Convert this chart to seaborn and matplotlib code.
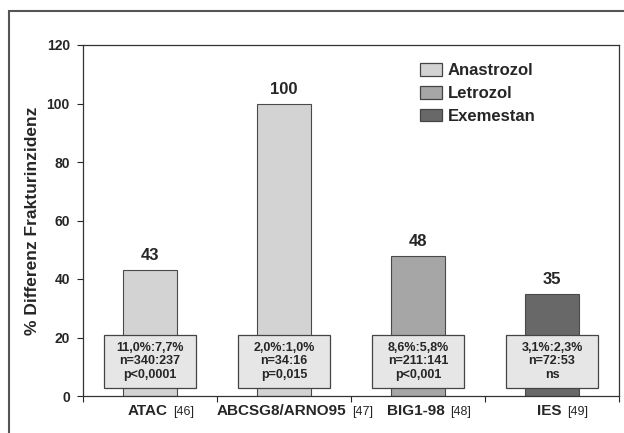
import numpy as np
import pandas as pd
import matplotlib
matplotlib.use('Agg')
import matplotlib.pyplot as plt
from matplotlib.patches import Rectangle, Patch
from matplotlib.offsetbox import TextArea, HPacker, AnnotationBbox
import seaborn as sns

sns.set_style('white')
plt.rcParams['font.family'] = ['Liberation Sans', 'DejaVu Sans']

studies = ['ATAC', 'ABCSG8/ARNO95', 'BIG1-98', 'IES']
refs = ['[46]', '[47]', '[48]', '[49]']
drugs = ['Anastrozol', 'Anastrozol', 'Letrozol', 'Exemestan']
values = [43, 100, 48, 35]
box_texts = ['11,0%:7,7%\nn=340:237\np<0,0001',
             '2,0%:1,0%\nn=34:16\np=0,015',
             '8,6%:5,8%\nn=211:141\np<0,001',
             '3,1%:2,3%\nn=72:53\nns']
drug_order = ['Anastrozol', 'Letrozol', 'Exemestan']
drug_colors = {'Anastrozol': '#d3d3d3', 'Letrozol': '#a6a6a6', 'Exemestan': '#686868'}

df = pd.DataFrame({'study': studies, 'drug': drugs, 'value': values})

fig = plt.figure(figsize=(6.24, 4.33), dpi=100)
ax = fig.add_axes([83 / 624, 1 - 396 / 433, 536 / 624, 351 / 433])

# outer frame of the figure (cut off at right / bottom)
fig.patches.append(Rectangle((9 / 624, -0.1), 1.2, 1 - 11 / 433 + 0.1,
                             transform=fig.transFigure, fill=False,
                             edgecolor='#555555', linewidth=1.5, clip_on=False))

sns.barplot(data=df, x='study', y='value', hue='drug', hue_order=drug_order,
            palette=drug_colors, dodge=False, width=0.4, edgecolor='#4a4a4a',
            linewidth=0.8, legend=False, ax=ax, zorder=2)

ax.set_ylim(0, 120)
ax.set_xlim(-0.5, len(studies) - 0.5)
ax.set_yticks(np.arange(0, 121, 20))
ax.set_yticklabels([str(t) for t in range(0, 121, 20)], fontsize=10, fontweight='bold')
ax.set_xticks(np.arange(-0.5, len(studies), 1.0))
ax.set_xticklabels([])
ax.tick_params(axis='y', direction='out', length=4.5, width=0.8, left=True, pad=5)
ax.tick_params(axis='x', direction='out', length=4, width=0.8, bottom=True)
ax.set_xlabel('')
ax.set_ylabel('% Differenz Frakturinzidenz', fontsize=12.5, fontweight='bold', labelpad=5)
for s in ax.spines.values():
    s.set_color('#333333')
    s.set_linewidth(0.9)

# value labels
for i, v in enumerate(values):
    ax.annotate(str(v), (i, v), xytext=(0, 5), textcoords='offset points',
                ha='center', va='bottom', fontsize=12, fontweight='bold')

# annotation boxes
for i, t in enumerate(box_texts):
    ax.add_patch(Rectangle((i - 0.34, 2.7), 0.68, 18.1, facecolor='#e6e6e6',
                           edgecolor='#444444', linewidth=0.9, zorder=3))
    ax.text(i, 11.8, t, ha='center', va='center', fontsize=9, fontweight='bold',
            linespacing=1.15, zorder=4)

# category labels: bold name + smaller reference
for i, (s, r) in enumerate(zip(studies, refs)):
    pack = HPacker(children=[TextArea(s, textprops=dict(fontsize=11, fontweight='bold')),
                             TextArea(r, textprops=dict(fontsize=9))],
                   align='baseline', pad=0, sep=4)
    ab = AnnotationBbox(pack, (i + 0.08, 0), xybox=(0, -11), boxcoords='offset points',
                        xycoords=('data', 'axes fraction'), frameon=False,
                        box_alignment=(0.5, 0.5), annotation_clip=False)
    ax.add_artist(ab)

handles = [Patch(facecolor=drug_colors[d], edgecolor='#444444', linewidth=0.9) for d in drug_order]
leg = ax.legend(handles, drug_order, loc='upper left', bbox_to_anchor=(0.629, 0.948),
                frameon=False, borderaxespad=0, borderpad=0,
                handlelength=1.3, handleheight=0.8, handletextpad=0.35,
                labelspacing=0.45, prop=dict(size=12, weight='bold'))

fig.savefig('out.png', dpi=100)
